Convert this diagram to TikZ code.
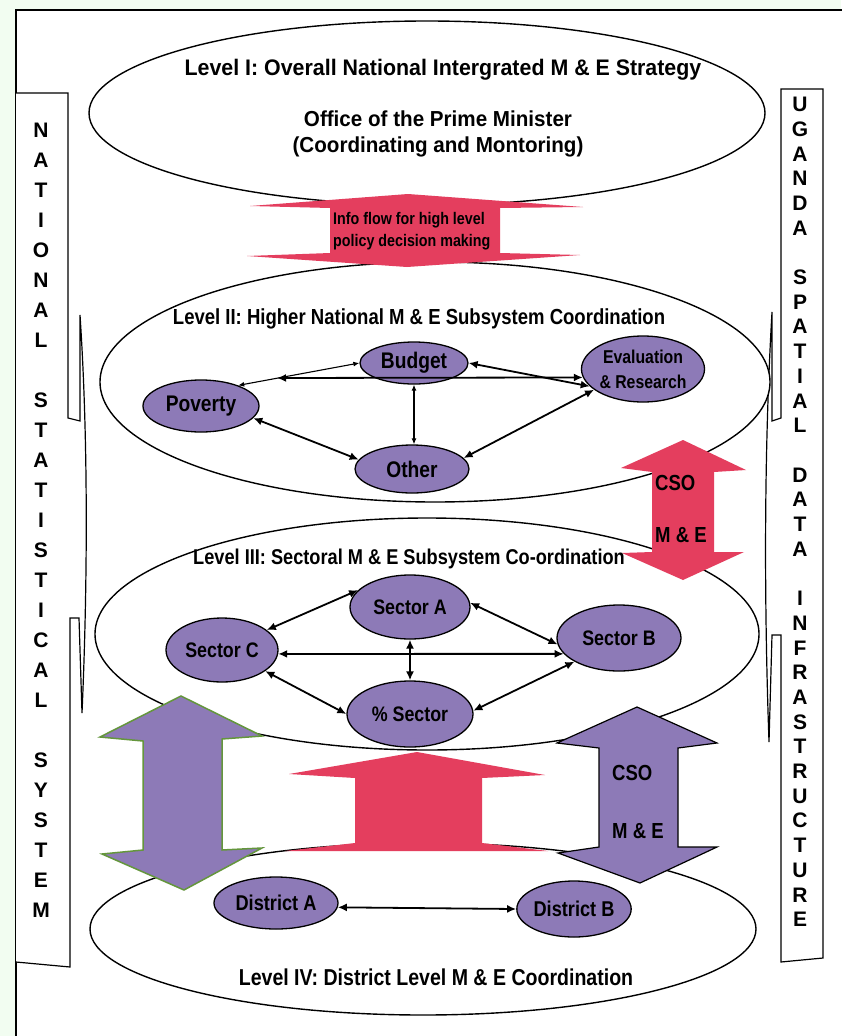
\documentclass[tikz,border=0pt]{standalone}
\usepackage{fontspec}
\setmainfont{Liberation Sans}[FakeStretch=0.85]
\newfontfamily\plainfont{Liberation Sans}
\newfontfamily\halfwidefont{Liberation Sans}[FakeStretch=0.95]
\usetikzlibrary{shapes.geometric,arrows.meta}

\definecolor{bggreen}{RGB}{242,253,241}
\definecolor{flowred}{RGB}{228,62,94}
\definecolor{unitpurple}{RGB}{141,122,183}
\definecolor{edgegreen}{RGB}{100,150,60}
\newcommand{\txtsize}[2]{\fontsize{#1}{#2}\selectfont\bfseries}

\begin{document}
\begin{tikzpicture}[x=1pt,y=-1pt]
    \tikzstyle{level}=[draw,line width=1.4pt,fill=white]
    \tikzstyle{unit}=[ellipse,draw,line width=1.3pt,fill=unitpurple,inner sep=0pt,
        font=\txtsize{22.6}{26}]
    \tikzstyle{link}=[line width=1.8pt,{Latex[length=9pt,width=8pt]}-{Latex[length=9pt,width=8pt]}]
    \tikzstyle{thinlink}=[line width=1.1pt,{Latex[length=6pt,width=5pt]}-{Latex[length=6pt,width=5pt]}]
    \tikzstyle{banner}=[draw,line width=1.2pt,fill=white]
    \useasboundingbox (0,0) rectangle (841,1036);
    % Background and frame
    \fill[bggreen] (0,0) rectangle (841,1036);
    \draw[line width=2pt,fill=white] (16,1050) -- (16,10) -- (850,10) -- (850,1050) -- cycle;
    % Side banners
    \draw[banner] (16,93) -- (68,93) -- (68,418) -- (80,421) -- (80,315)
        .. controls (89,450) and (87,600) .. (82,713) -- (79,618) -- (70,618)
        -- (70,967) -- (16,962);
    \draw[banner] (823,89) -- (781,89) -- (781,418) -- (772,421) -- (772,312)
        .. controls (764,450) and (764,600) .. (769,742) -- (772,635) -- (781,635)
        -- (781,962) -- (823,958) -- cycle;
    \node[font=\plainfont\txtsize{21}{30},align=center,anchor=north,inner sep=0pt] (nss) at (41,123)
        {N\\A\\T\\I\\O\\N\\A\\L\\~\\S\\T\\A\\T\\I\\S\\T\\I\\C\\A\\L\\~\\S\\Y\\S\\T\\E\\M};
    \node[font=\plainfont\txtsize{21}{24.7},align=center,anchor=north,inner sep=0pt] (usdi) at (800,97)
        {U\\G\\A\\N\\D\\A\\~\\S\\P\\A\\T\\I\\A\\L\\~\\D\\A\\T\\A\\~\\I\\N\\F\\R\\A\\S\\T\\R\\U\\C\\T\\U\\R\\E};
    % Levels
    \draw[level] (427,113) ellipse (338pt and 92pt);
    \draw[level] (435,382) ellipse (335pt and 120pt);
    \draw[level] (427,634) ellipse (332pt and 116pt);
    \draw[level] (423,929) ellipse (333pt and 86pt);
    % Block arrows
    \fill[flowred] (408,194) -- (583,207) -- (500,208) -- (500,253) -- (580,255) -- (407,267)
        -- (247,256) -- (330,253) -- (330,208) -- (250,206) -- cycle;
    \fill[flowred] (683,440) -- (746,470) -- (714,472) -- (714,552) -- (744,552) -- (683,580)
        -- (622,553) -- (652,552) -- (652,472) -- (621,468) -- cycle;
    \fill[flowred] (417,752) -- (545,775) -- (482,778) -- (482,843) -- (548,851) -- (285,851)
        -- (355,843) -- (355,778) -- (289,774) -- cycle;
    \filldraw[fill=unitpurple,draw=edgegreen,line width=1.5pt] (181,696) -- (262,736) -- (222,739)
        -- (222,850) -- (262,848) -- (184,890) -- (102,854) -- (143,850) -- (143,741) -- (100,737) -- cycle;
    \filldraw[fill=unitpurple,draw=black,line width=1.2pt] (637,707) -- (717,743) -- (678,748)
        -- (678,847) -- (717,847) -- (640,883) -- (558,853) -- (599,847) -- (599,748) -- (557,743) -- cycle;
    % Texts
    \node[font=\halfwidefont\txtsize{22.5}{27}] (lvl1) at (443,70) {Level I: Overall National Intergrated M \& E Strategy};
    \node[font=\halfwidefont\txtsize{21.7}{26},align=center] (opm) at (438,134)
        {Office of the Prime Minister\\(Coordinating and Montoring)};
    \node[font=\txtsize{16.8}{22},align=left,anchor=west,inner sep=0pt] (info) at (333,231)
        {Info flow for high level\\policy decision making};
    \node[font=\txtsize{21.8}{26}] (lvl2) at (419,319) {Level II: Higher National M \& E Subsystem Coordination};
    \node[font=\txtsize{21.4}{26}] (lvl3) at (409,559) {Level III: Sectoral M \& E Subsystem Co-ordination};
    \node[font=\txtsize{23}{27}] (lvl4) at (436,977) {Level IV: District Level M \& E Coordination};
    \node[font=\txtsize{21.8}{26},anchor=west,inner sep=0pt] (cso1) at (655,483) {CSO};
    \node[font=\txtsize{21.8}{26},anchor=west,inner sep=0pt] (me1) at (655,535) {M \& E};
    \node[font=\txtsize{21.8}{26},anchor=west,inner sep=0pt] (cso2) at (612,773) {CSO};
    \node[font=\txtsize{21.8}{26},anchor=west,inner sep=0pt] (me2) at (612,831) {M \& E};
    % Units
    \node[unit,minimum width=108pt,minimum height=42pt] (budget) at (414,363) {Budget};
    \node[unit,minimum width=120pt,minimum height=66pt,align=center,font=\txtsize{18.6}{25}] (eval)
        at (643,369) {Evaluation\\\& Research};
    \node[unit,minimum width=116pt,minimum height=52pt] (poverty) at (201,406) {Poverty};
    \node[unit,minimum width=114pt,minimum height=48pt] (other) at (412,469) {Other};
    \node[unit,minimum width=120pt,minimum height=64pt,font=\txtsize{21}{25}] (secA) at (410,607) {Sector A};
    \node[unit,minimum width=124pt,minimum height=66pt,font=\txtsize{21}{25}] (secB) at (619,638) {Sector B};
    \node[unit,minimum width=112pt,minimum height=64pt,font=\txtsize{21}{25}] (secC) at (222,650) {Sector C};
    \node[unit,minimum width=126pt,minimum height=66pt,font=\txtsize{21}{25}] (secP) at (410,714) {\% Sector};
    \node[unit,minimum width=124pt,minimum height=52pt,font=\txtsize{21.4}{25}] (distA) at (276,903) {District A};
    \node[unit,minimum width=112pt,minimum height=56pt,font=\txtsize{21.4}{25}] (distB) at (574,909) {District B};
    % Links, level II
    \coordinate (pv) at (277,378);
    \draw[thinlink] (budget.180) -- (poverty.29);
    \draw[link] (pv) -- (eval.188);
    \draw[link] (budget.0) -- (eval.198);
    \draw[thinlink] (budget.south) -- (budget.south |- other.north);
    \draw[link] (poverty.347) -- (other.170);
    \draw[link] (other.12) -- (eval.203);
    % Links, level III
    \draw[link] (secC.24) -- (secA.162);
    \draw[link] (secA.4) -- (secB.186);
    \draw[link] (secC.-4) -- (secB.196);
    \draw[link] (secA.south) -- (secP.north);
    \draw[link] (secC.334) -- (secP.180);
    \draw[link] (secP.3) -- (secB.208);
    % Link, level IV
    \draw[link] (distA.-4) -- (distB.180);
\end{tikzpicture}
\end{document}
